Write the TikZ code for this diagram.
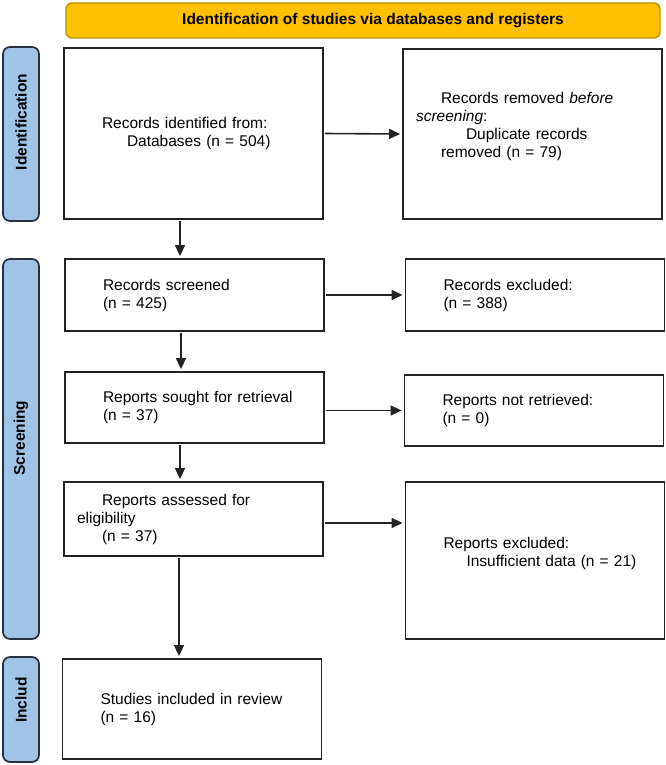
\documentclass[tikz,border=0pt]{standalone}
\usepackage{fontspec}
\setmainfont{Liberation Sans}
\usetikzlibrary{arrows.meta,calc}

\definecolor{bannerfill}{RGB}{255,192,0}
\definecolor{bannerline}{RGB}{191,144,0}
\definecolor{tabfill}{RGB}{160,196,232}
\definecolor{tabline}{RGB}{40,48,62}
\definecolor{boxline}{RGB}{35,35,35}

\newcommand{\bodysize}{\fontsize{15.5}{18}\selectfont}

\tikzset{
  stagebox/.style={draw=boxline, line width=1.8pt, fill=white, align=left,
    text width=183pt, inner xsep=38pt, inner ysep=0pt, font=\bodysize},
  phasetab/.style={draw=tabline, fill=tabfill, line width=1.7pt, rounded corners=7pt,
    rotate=90, minimum height=36pt, inner sep=0pt, font=\bodysize\bfseries},
  flow/.style={draw=boxline, line width=1.6pt, -{Triangle[length=11pt,width=10pt]},
    shorten >=2pt, shorten <=1pt},
}

\begin{document}
\begin{tikzpicture}[x=1pt,y=-1pt]
    \useasboundingbox (0,0) rectangle (666,765);

    % banner
    \node[draw=bannerline, fill=bannerfill, line width=1.4pt, rounded corners=6pt,
          minimum width=594pt, minimum height=35pt, inner sep=0pt,
          font=\bodysize\bfseries] (banner) at (363,20.5)
          {\hspace*{20pt}Identification of studies via databases and registers};

    % phase tabs
    \node[phasetab, minimum width=174pt] (idtab) at (21,134) {\hspace*{24pt}Identification};
    \node[phasetab, minimum width=380pt] (scrtab) at (21,449) {\hspace*{22pt}Screening};
    \node[phasetab, minimum width=105pt] (inctab) at (21,709.5) {\hspace*{19pt}Includ};

    % left column
    \node[stagebox, minimum height=171pt] (ident) at (193.5,133.5)
        {Records identified from:\\ \hspace*{25pt}Databases (n = 504)};
    \node[stagebox, minimum height=72pt] (screened) at (194.5,295)
        {Records screened\\ (n = 425)};
    \node[stagebox, minimum height=71pt] (sought) at (194.5,407.5)
        {\mbox{Reports sought for retrieval}\\ (n = 37)};
    \node[stagebox, minimum height=74pt] (assessed) at (193.5,519)
        {Reports assessed for\\ \hspace*{-25pt}eligibility\\ (n = 37)};
    \node[stagebox, minimum height=100pt] (included) at (192,709)
        {\mbox{Studies included in review}\\ (n = 16)};

    % right column
    \node[stagebox, minimum height=170pt] (removed) at (532.5,134)
        {\mbox{Records removed \textit{before}}\\ \hspace*{-25pt}\textit{screening}:\\
         \hspace*{25pt}Duplicate records\\ removed (n = 79)\\ \mbox{}};
    \node[stagebox, minimum height=72pt] (excluded) at (535,295)
        {Records excluded:\\ (n = 388)};
    \node[stagebox, minimum height=71pt] (notretr) at (534,410.5)
        {\mbox{Reports not retrieved:}\\ (n = 0)};
    \node[stagebox, minimum height=157pt] (repexcl) at (535,560.5)
        {Reports excluded:\\ \mbox{\hspace*{23pt}Insufficient data (n = 21)}\\ \mbox{}};

    % down the left column
    \draw[flow] (ident.south -| 180,0) -- (screened.north -| 180,0);
    \draw[flow] (screened.south -| 181,0) -- (sought.north -| 181,0);
    \draw[flow] (sought.south -| 180,0) -- (assessed.north -| 180,0);
    \draw[flow] (assessed.south -| 179,0) -- (included.north -| 179,0);

    % across to the right column
    \draw[flow] (ident.east) -- (removed.west);
    \draw[flow] (screened.east) -- (excluded.west);
    \draw[flow] (notretr.west -| sought.east) -- (notretr.west);
    \draw[flow] ([yshift=-4pt]assessed.east) -- ([yshift=-4pt]assessed.east -| repexcl.west);
\end{tikzpicture}
\end{document}
